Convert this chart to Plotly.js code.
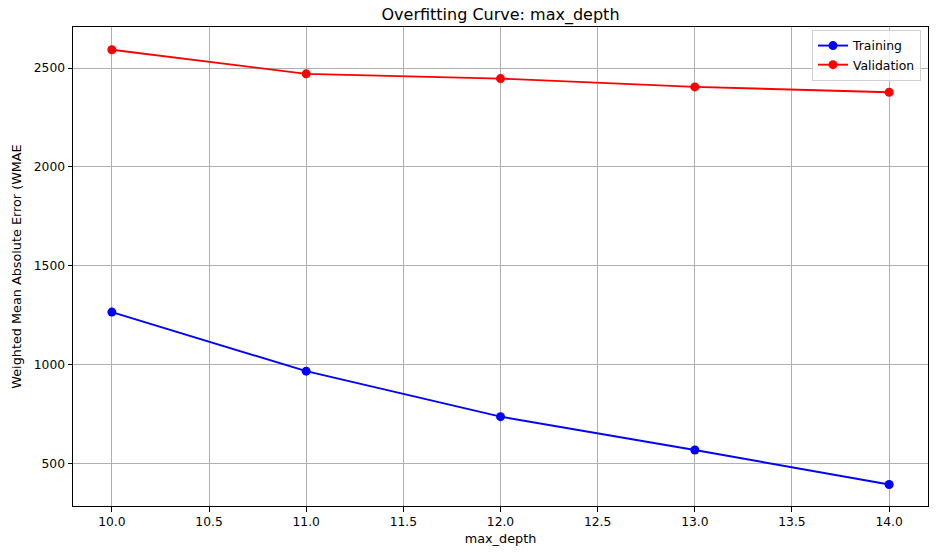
<!DOCTYPE html>
<html>
<head>
<meta charset="utf-8">
<script src="https://cdn.plot.ly/plotly-3.0.1.min.js"></script>
<style>
  html, body { margin: 0; padding: 0; background: #fff; }
  #chart { width: 936px; height: 554px; }
</style>
</head>
<body>
<div id="chart"></div>
<script>
// Values.
const maxDepth = [10, 11, 12, 13, 14];
const trainingWmae = [1266, 967, 737, 568, 394];
const validationWmae = [2593, 2471, 2447, 2405, 2378];

const FONT = "DejaVu Sans, Verdana, sans-serif";

const traces = [
  {
    x: maxDepth,
    y: trainingWmae,
    type: "scatter",
    mode: "lines+markers",
    name: "Training",
    line: { color: "#0000ff", width: 1.9 },
    marker: { color: "#0000ff", size: 9 },
  },
  {
    x: maxDepth,
    y: validationWmae,
    type: "scatter",
    mode: "lines+markers",
    name: "Validation",
    line: { color: "#ff0000", width: 1.9 },
    marker: { color: "#ff0000", size: 9 },
  },
];

// matplotlib-like axes: black frame, grey grid, outside ticks
const axisCommon = {
  showline: true,
  linecolor: "#000",
  linewidth: 1,
  mirror: true,
  showgrid: true,
  gridcolor: "#b0b0b0",
  gridwidth: 1,
  zeroline: false,
  ticks: "outside",
  ticklen: 4.5,
  tickwidth: 1,
  tickcolor: "#000",
  tickfont: { family: FONT, size: 12.3, color: "#000" },
};

const layout = {
  width: 936,
  height: 554,
  margin: { l: 73, r: 8, t: 27, b: 48 },
  paper_bgcolor: "#fff",
  plot_bgcolor: "#fff",
  font: { family: FONT, size: 12, color: "#000" },
  title: {
    text: "Overfitting Curve: max_depth",
    font: { family: FONT, size: 16, color: "#000" },
    xref: "paper",
    x: 0.5,
    xanchor: "center",
    y: 1 - 14 / 554,
    yanchor: "middle",
  },
  xaxis: Object.assign({}, axisCommon, {
    range: [9.8, 14.2],
    tick0: 10,
    dtick: 0.5,
    tickformat: ".1f",
    title: { text: "max_depth", font: { family: FONT, size: 12.8 }, standoff: 5 },
  }),
  yaxis: Object.assign({}, axisCommon, {
    range: [285, 2708],
    tick0: 500,
    dtick: 500,
    title: { text: "Weighted Mean Absolute Error (WMAE", font: { family: FONT, size: 12.8 }, standoff: 9 },
  }),
  legend: {
    x: 1 - 7 / 855,
    xanchor: "right",
    y: 1 - 3 / 479,
    yanchor: "top",
    bgcolor: "rgba(255,255,255,0.8)",
    bordercolor: "#d0d0d0",
    borderwidth: 1,
    font: { family: FONT, size: 12.4, color: "#000" },
    tracegroupgap: 0,
  },
  showlegend: true,
};

Plotly.newPlot("chart", traces, layout, { displayModeBar: false, responsive: false });
</script>
</body>
</html>
